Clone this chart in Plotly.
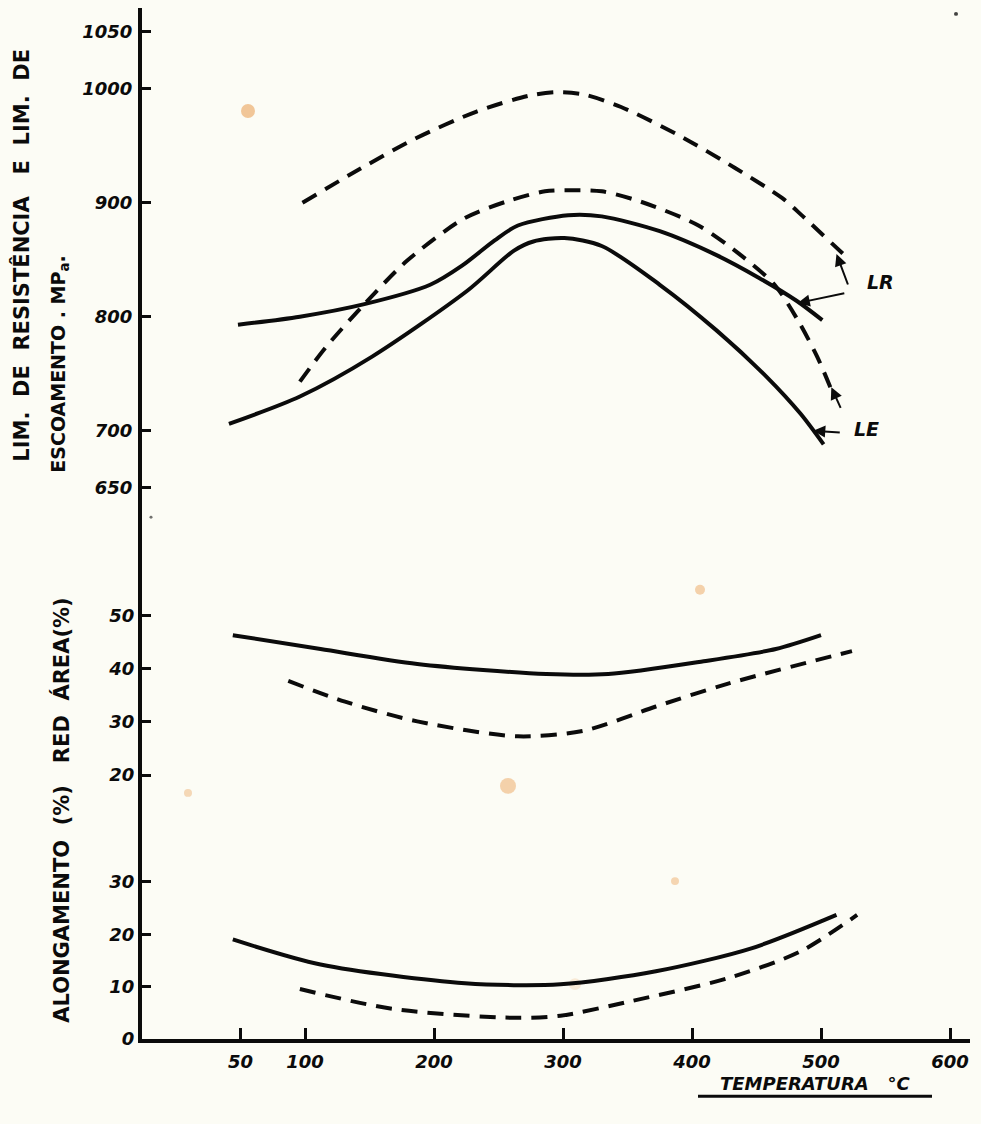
import plotly.graph_objects as go

W, H = 981, 1124

# --- Strength vs temperature (MPa) ---
# dashed material: tensile limit (LR) and yield limit (LE)
t_lr_dash = [98, 137, 185, 233, 274, 295, 316, 345, 390, 434, 470, 486, 520]
lr_dash = [900, 926, 956, 980, 994, 997, 995, 984, 959, 930, 904, 888, 852]
t_le_dash = [96, 116, 146, 179, 223, 256, 286, 307, 330, 360, 405, 440, 464, 482, 497, 508]
le_dash = [743, 773, 811, 849, 886, 901, 910, 911, 910, 901, 880, 852, 828, 797, 765, 736]
# solid material
t_lr_solid = [48, 96, 146, 197, 222, 247, 265, 304, 330, 375, 419, 452, 481, 501]
lr_solid = [793, 800, 811, 828, 845, 867, 880, 889, 888, 875, 854, 834, 814, 797]
t_le_solid = [41, 96, 152, 226, 262, 277, 301, 330, 375, 419, 458, 484, 502]
le_solid = [706, 730, 765, 823, 858, 866, 869, 862, 828, 788, 747, 715, 688]

# --- Reduction of area (%) ---
t_ra_solid = [44, 112, 187, 287, 335, 409, 465, 500]
ra_solid = [46.3, 43.7, 40.9, 39.0, 39.0, 41.4, 43.7, 46.3]
t_ra_dash = [87, 131, 187, 265, 317, 372, 428, 524]
ra_dash = [37.7, 33.8, 30.1, 27.3, 28.4, 32.9, 37.2, 43.3]

# --- Elongation (%) ---
t_el_solid = [44, 112, 224, 298, 372, 446, 512]
el_solid = [19.0, 14.2, 10.6, 10.4, 12.9, 17.3, 23.7]
t_el_dash = [96, 168, 261, 298, 353, 428, 484, 528]
el_dash = [9.5, 5.7, 4.0, 4.4, 7.2, 11.6, 16.7, 23.7]

x_ticks = [50, 100, 200, 300, 400, 500, 600]
mpa_ticks = [650, 700, 800, 900, 1000, 1050]
ra_ticks = [20, 30, 40, 50]
el_ticks = [0, 10, 20, 30]

INK = "#0b0b0b"
BG = "#fcfcf5"
SOLID = dict(color=INK, width=4, shape="spline", smoothing=0.8)
DASH = dict(color=INK, width=4, dash="16px,10px", shape="spline", smoothing=0.8)


def yp(row):
    """paper y of a pixel row"""
    return 1 - row / H


def xp(col):
    return col / W


fig = go.Figure()
fig.add_trace(go.Scatter(x=t_lr_dash, y=lr_dash, mode="lines", line=DASH, yaxis="y"))
fig.add_trace(go.Scatter(x=t_le_dash, y=le_dash, mode="lines", line=DASH, yaxis="y"))
fig.add_trace(go.Scatter(x=t_lr_solid, y=lr_solid, mode="lines", line=SOLID, yaxis="y"))
fig.add_trace(go.Scatter(x=t_le_solid, y=le_solid, mode="lines", line=SOLID, yaxis="y"))
fig.add_trace(go.Scatter(x=t_ra_solid, y=ra_solid, mode="lines", line=SOLID, yaxis="y2"))
fig.add_trace(go.Scatter(x=t_ra_dash, y=ra_dash, mode="lines", line=DASH, yaxis="y2"))
fig.add_trace(go.Scatter(x=t_el_solid, y=el_solid, mode="lines", line=SOLID, yaxis="y3"))
fig.add_trace(go.Scatter(x=t_el_dash, y=el_dash, mode="lines", line=DASH, yaxis="y3"))

tickfont = dict(family="DejaVu Sans", size=18, color=INK, weight="bold", style="italic")
axis_common = dict(
    showline=True, linewidth=4, linecolor=INK, showgrid=False, zeroline=False,
    ticks="inside", ticklen=9, tickwidth=3, tickcolor=INK, tickfont=tickfont,
    anchor="x", fixedrange=True,
)

fig.update_layout(
    width=W, height=H,
    margin=dict(l=0, r=0, t=0, b=0),
    paper_bgcolor=BG, plot_bgcolor=BG,
    showlegend=False,
    xaxis=dict(
        domain=[xp(142), xp(970)], range=[-26.4, 615.5], anchor="y3",
        showline=True, linewidth=4, linecolor=INK, showgrid=False, zeroline=False,
        ticks="inside", ticklen=11, tickwidth=3, tickcolor=INK,
        tickvals=x_ticks, tickfont=tickfont, ticklabelstandoff=4, fixedrange=True,
    ),
    yaxis=dict(domain=[yp(560), yp(8)], range=[590.9, 1070.9], tickvals=mpa_ticks,
               ticklabelstandoff=2, **axis_common),
    yaxis2=dict(domain=[yp(800), yp(560)], range=[16.67, 61.36], tickvals=ra_ticks,
                ticklabelstandoff=0, **axis_common),
    yaxis3=dict(domain=[yp(1048), yp(800)], range=[0, 47.06], tickvals=el_ticks,
                ticklabelstandoff=0, **axis_common),
)

ann = [
    dict(text="LIM.  DE  RESISTÊNCIA   E  LIM.  DE", x=xp(22), y=yp(258), size=21),
    dict(text="ESCOAMENTO . MP<sub>a</sub>.", x=xp(60), y=yp(368), size=19),
    dict(text="ALONGAMENTO  (%)   RED  ÁREA(%)", x=xp(62), y=yp(818), size=21),
]
for a in ann:
    fig.add_annotation(xref="paper", yref="paper", showarrow=False, textangle=-90,
                       font=dict(family="DejaVu Sans", size=a["size"], color=INK, weight="bold"),
                       xanchor="center", yanchor="middle", text=a["text"], x=a["x"], y=a["y"])

fig.add_annotation(text="TEMPERATURA   °C", xref="paper", yref="paper", x=xp(815), y=yp(1093),
                   xanchor="center", yanchor="middle", showarrow=False,
                   font=dict(family="DejaVu Sans", size=18, color=INK, style="italic",
                             weight="bold"))
fig.add_shape(type="line", xref="paper", yref="paper", x0=xp(698), x1=xp(932),
              y0=yp(1106), y1=yp(1106), line=dict(color=INK, width=3))

# curve labels with pointers
lab_font = dict(family="DejaVu Sans", size=19, color=INK, style="italic", weight="bold")
fig.add_annotation(text="LR", x=xp(880), y=yp(285), xref="paper", yref="paper",
                   xanchor="center", yanchor="middle", showarrow=False, font=lab_font)
fig.add_annotation(text="LE", x=xp(866), y=yp(433), xref="paper", yref="paper",
                   xanchor="center", yanchor="middle", showarrow=False, font=lab_font)
arrow = dict(showarrow=True, arrowhead=2, arrowsize=1.2, arrowwidth=2, arrowcolor=INK,
             text="", xref="x", yref="y", axref="pixel", ayref="pixel")
fig.add_annotation(x=512, y=855, ax=12, ay=32, **arrow)
fig.add_annotation(x=482, y=812, ax=48, ay=-10, **arrow)
fig.add_annotation(x=508, y=738, ax=10, ay=22, **arrow)
fig.add_annotation(x=494, y=700, ax=28, ay=2, **arrow)

# paper stains and specks
for cx, cy, r, col in [(248, 112, 7, "rgba(238,180,120,0.75)"),
                       (700, 595, 5, "rgba(238,180,120,0.6)"),
                       (508, 793, 8, "rgba(238,180,120,0.6)"),
                       (188, 800, 4, "rgba(238,180,120,0.5)"),
                       (675, 889, 4, "rgba(238,180,120,0.55)"),
                       (575, 993, 6, "rgba(238,180,120,0.25)"),
                       (956, 14, 2, "rgba(20,20,20,0.8)"),
                       (151, 522, 1.5, "rgba(20,20,20,0.6)")]:
    fig.add_shape(type="circle", xref="paper", yref="paper",
                  x0=xp(cx - r), x1=xp(cx + r), y0=yp(cy + r), y1=yp(cy - r),
                  fillcolor=col, line=dict(width=0), layer="below")

fig.write_html("out.html")
